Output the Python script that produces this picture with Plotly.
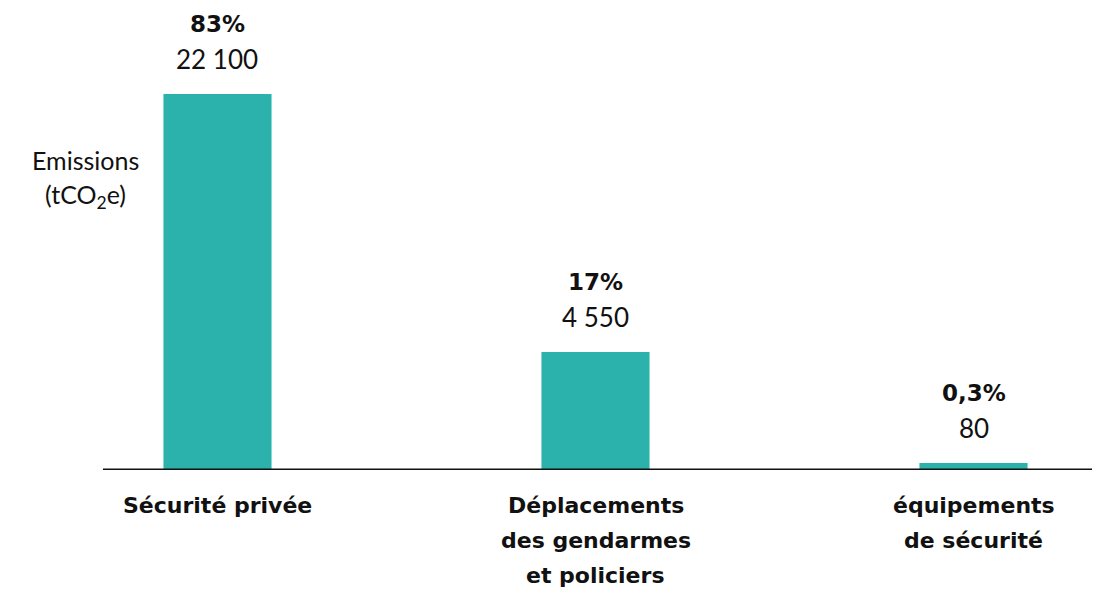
import plotly.graph_objects as go

categories = ["Sécurité privée", "Déplacements<br>des gendarmes<br>et policiers", "équipements<br>de sécurité"]
emissions = [22100, 4550, 80]
emission_labels = ["22 100", "4 550", "80"]
shares = ["83%", "17%", "0,3%"]
# bar heights as they are drawn in the picture (tCO2e, not to scale with the labels)
drawn_heights = [22100, 6940, 410]

teal = "#2bb2ac"
x = list(range(len(categories)))

fig = go.Figure()
fig.add_trace(go.Bar(x=x, y=drawn_heights, width=0.286, marker=dict(color=teal, line=dict(width=0)),
                     hoverinfo="skip", showlegend=False))

# labels over each bar
for i in x:
    fig.add_annotation(x=i, y=drawn_heights[i], text="<b>" + shares[i] + "</b>", showarrow=False,
                       yanchor="middle", yshift=70, font=dict(family="DejaVu Sans", size=23, color="#111"))
    fig.add_annotation(x=i, y=drawn_heights[i], text=emission_labels[i], showarrow=False,
                       yanchor="middle", yshift=35, font=dict(family="Lato", size=26, color="#111"))
    # category label, one annotation per line
    for j, line in enumerate(categories[i].split("<br>")):
        fig.add_annotation(x=i, y=0, text="<b>" + line + "</b>", showarrow=False,
                           yanchor="middle", yshift=-35 - 35 * j,
                           font=dict(family="DejaVu Sans", size=22, color="#111"))

fig.add_annotation(xref="paper", yref="paper", x=77 / 1100, y=1 - 152 / 462, text="Emissions",
                   showarrow=False, xanchor="center", yanchor="middle",
                   font=dict(family="Lato", size=25, color="#111"))
fig.add_annotation(xref="paper", yref="paper", x=77 / 1100, y=1 - 188 / 462, text="(tCO<sub>2</sub>e)",
                   showarrow=False, xanchor="center", yanchor="middle",
                   font=dict(family="Lato", size=25, color="#111"))

# baseline
fig.add_shape(type="line", xref="x", yref="y", x0=-0.303, x1=3, y0=0, y1=0,
              line=dict(color="#111", width=3))

fig.update_layout(
    width=1100, height=591,
    margin=dict(l=0, r=0, t=0, b=129),
    plot_bgcolor="white", paper_bgcolor="white",
    xaxis=dict(range=[-0.5542, 2.3558], visible=False, fixedrange=True),
    yaxis=dict(range=[0, 27155], visible=False, fixedrange=True),
)

fig.write_html("out.html")
